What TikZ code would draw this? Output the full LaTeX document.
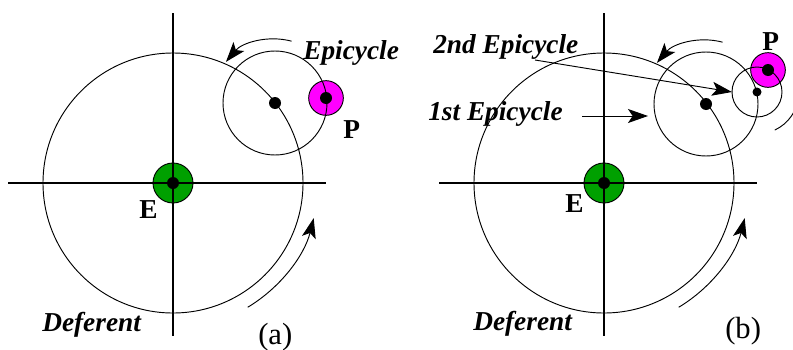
\documentclass[tikz,border=0pt]{standalone}
\usepackage{fontspec}
\setmainfont{Liberation Serif}
\usetikzlibrary{arrows.meta, calc}
\definecolor{earthgreen}{RGB}{0,160,0}
\definecolor{planetpink}{RGB}{255,0,255}

\begin{document}
\begin{tikzpicture}[x=0.75pt, y=-0.75pt, >={Stealth[length=15pt, width=10.5pt, inset=3.5pt]},
		axis/.style={line width=1.2pt},
		orbit/.style={circle, draw, line width=0.7pt, inner sep=0pt, outer sep=0pt},
		earth/.style={circle, draw, fill=earthgreen, line width=0.7pt, minimum size=30pt, inner sep=0pt},
		planet/.style={circle, draw, fill=planetpink, line width=0.7pt, minimum size=26pt, inner sep=0pt},
		hub/.style={circle, fill=black, minimum size=9pt, inner sep=0pt},
		motion/.style={->, line width=0.7pt},
		orblabel/.style={font=\fontsize{20.5}{24}\selectfont\bfseries\itshape, inner sep=0pt, anchor=base west},
		letter/.style={font=\fontsize{20.5}{24}\selectfont\bfseries, inner sep=0pt, anchor=base west},
		panel/.style={font=\fontsize{23}{26}\selectfont, inner sep=0pt, anchor=base west}]
		
		\useasboundingbox (0,0) rectangle (793,350);
		\clip (0,0) rectangle (793,350);
		
		% Painel (a): Terra e planeta
		\node[earth] (Ea) at (173,183) {};
		\node[planet] (Pa) at (326,98) {};
		
		% Eixos
		\draw[axis] (Ea.center) ++(-165,0) -- ++(318,0);
		\draw[axis] (Ea.center) ++(0,-170) -- ++(0,323);
		
		% Deferente e epiciclo
		\node[orbit, minimum size=195pt] (defa) at (Ea) {};
		\node[orbit, minimum size=78pt] (epia) at (275,103) {};
		\node[hub] (hEa) at (Ea) {};
		\node[hub] (hPa) at (Pa) {};
		\node[hub] (hepia) at (epia) {};
		
		% Sentido do movimento
		\draw[motion] ($(epia)+(-75:64)$) arc[start angle=-75, end angle=-140, radius=64];
		\draw[motion] ($(Ea)+(59:145)$) arc[start angle=59, end angle=14, radius=145];
		
		% Rotulos
		\node[orblabel] (lblepia) at (303,59) {Epicycle};
		\node[letter] (lblPa) at (343,138) {P};
		\node[letter] (lblEa) at (139,218) {E};
		\node[orblabel] (lbldefa) at (42,331) {Deferent};
		\node[panel] (taga) at (258,344) {(a)};
		
		% Painel (b): Terra e planeta
		\node[earth] (Eb) at (604,183) {};
		\node[planet] (Pb) at (768,70) {};
		
		% Eixos
		\draw[axis] (Eb.center) ++(-165,0) -- ++(318,0);
		\draw[axis] (Eb.center) ++(0,-170) -- ++(0,323);
		
		% Deferente e dois epiciclos
		\node[orbit, minimum size=195pt] (defb) at (Eb) {};
		\node[orbit, minimum size=78pt] (epib) at (706,104) {};
		\node[orbit, minimum size=37.5pt] (epic) at (757,92) {};
		\node[hub] (hEb) at (Eb) {};
		\node[hub] (hPb) at (Pb) {};
		\node[hub] (hepib) at (epib) {};
		\node[hub, minimum size=6.75pt] (hepic) at (epic) {};
		
		% Sentido do movimento
		\draw[motion] ($(epib)+(-75:64)$) arc[start angle=-75, end angle=-140, radius=64];
		\draw[motion] ($(Eb)+(59:145)$) arc[start angle=59, end angle=14, radius=145];
		\draw[motion] ($(epic)+(65:42)$) arc[start angle=65, end angle=-30, radius=42];
		
		% Rotulos e setas
		\node[orblabel] (lblepic) at (433,53) {2nd Epicycle};
		\node[orblabel] (lblepib) at (428,120) {1st Epicycle};
		\node[letter] (lblPb) at (762,50) {P};
		\node[letter] (lblEb) at (565,212) {E};
		\node[orblabel] (lbldefb) at (473,330) {Deferent};
		\node[panel] (tagb) at (725,338) {(b)};
		
		\coordinate (tail2) at (535,60);
		\coordinate (tail1) at (582,116);
		\draw[motion] (tail2) -- (epic.west);
		\draw[motion, shorten >=4.5pt] (tail1) -- (tail1 -| epib.west);
		
	\end{tikzpicture}
\end{document}
